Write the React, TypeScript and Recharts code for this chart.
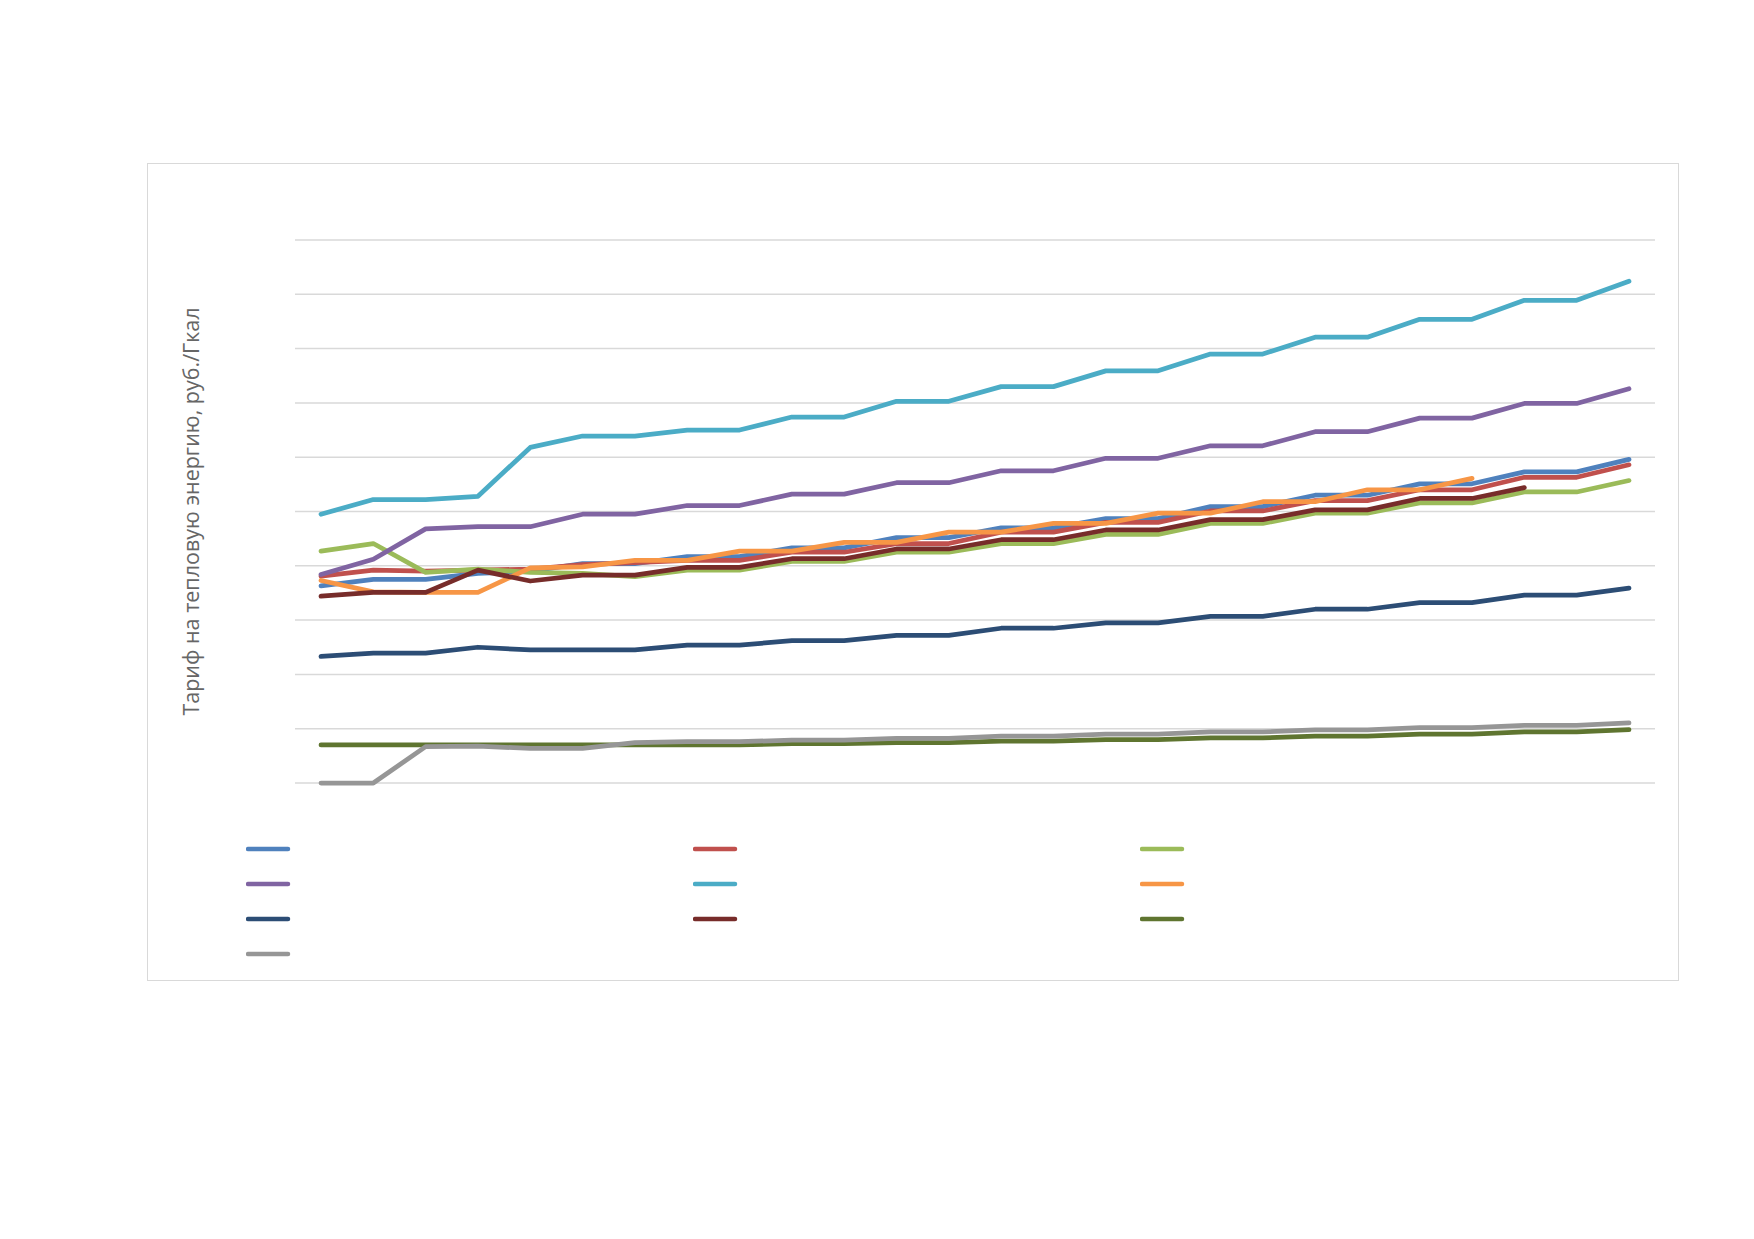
import React from 'react';
import { LineChart, Line, XAxis, YAxis, CartesianGrid, Legend } from 'recharts';

// полугодия 2013–2025
const periods = [
  '2013 I', '2013 II', '2014 I', '2014 II', '2015 I', '2015 II', '2016 I', '2016 II',
  '2017 I', '2017 II', '2018 I', '2018 II', '2019 I', '2019 II', '2020 I', '2020 II',
  '2021 I', '2021 II', '2022 I', '2022 II', '2023 I', '2023 II', '2024 I', '2024 II',
  '2025 I', '2025 II',
];

const s01 = [1815, 1875, 1875, 1930, 1950, 2020, 2020, 2085, 2085, 2165, 2165, 2260, 2260, 2350, 2350, 2435, 2435, 2545, 2545, 2650, 2650, 2755, 2755, 2865, 2865, 2980];
const s02 = [1905, 1960, 1950, 1960, 1970, 2010, 2030, 2050, 2050, 2125, 2125, 2205, 2205, 2310, 2310, 2400, 2400, 2505, 2505, 2600, 2600, 2700, 2700, 2815, 2815, 2930];
const s03 = [2135, 2205, 1940, 1970, 1940, 1930, 1900, 1960, 1960, 2040, 2040, 2125, 2125, 2205, 2205, 2290, 2290, 2390, 2390, 2485, 2485, 2580, 2580, 2680, 2680, 2785];
const s04 = [1920, 2060, 2340, 2360, 2360, 2475, 2475, 2555, 2555, 2660, 2660, 2765, 2765, 2875, 2875, 2990, 2990, 3105, 3105, 3235, 3235, 3360, 3360, 3495, 3495, 3630];
const s05 = [2475, 2610, 2610, 2640, 3090, 3195, 3195, 3250, 3250, 3370, 3370, 3515, 3515, 3650, 3650, 3795, 3795, 3950, 3950, 4105, 4105, 4270, 4270, 4445, 4445, 4620];
const s06 = [1865, 1760, 1755, 1755, 1980, 1990, 2050, 2050, 2135, 2135, 2215, 2215, 2310, 2310, 2390, 2390, 2485, 2485, 2590, 2590, 2700, 2700, 2805, null, null, null];
const s07 = [1165, 1195, 1195, 1250, 1225, 1225, 1225, 1270, 1270, 1310, 1310, 1360, 1360, 1425, 1425, 1475, 1475, 1535, 1535, 1600, 1600, 1660, 1660, 1730, 1730, 1795];
const s08 = [1720, 1755, 1755, 1960, 1860, 1915, 1915, 1985, 1985, 2065, 2065, 2155, 2155, 2240, 2240, 2330, 2330, 2425, 2425, 2515, 2515, 2620, 2620, 2720, null, null];
const s09 = [350, 350, 350, 350, 350, 352, 350, 350, 352, 362, 362, 372, 372, 385, 385, 400, 400, 415, 415, 432, 432, 450, 450, 470, 470, 492];
const s10 = [0, 0, 335, 340, 318, 318, 372, 380, 380, 395, 395, 410, 410, 432, 432, 450, 450, 470, 470, 490, 490, 510, 510, 530, 530, 553];

const yTicks = [0, 500, 1000, 1500, 2000, 2500, 3000, 3500, 4000, 4500, 5000];

const series = [
  { key: 's01', values: s01, color: '#4F81BD' },
  { key: 's02', values: s02, color: '#C0504D' },
  { key: 's03', values: s03, color: '#9BBB59' },
  { key: 's04', values: s04, color: '#8064A2' },
  { key: 's05', values: s05, color: '#4BACC6' },
  { key: 's06', values: s06, color: '#F79646' },
  { key: 's07', values: s07, color: '#2C4D75' },
  { key: 's08', values: s08, color: '#772C2A' },
  { key: 's09', values: s09, color: '#5F7530' },
  { key: 's10', values: s10, color: '#969696' },
];

const data = periods.map((p, i) => {
  const row: Record<string, string | number | null> = { period: p };
  series.forEach((s) => {
    row[s.key] = s.values[i];
  });
  return row;
});

const LegendLines = (props: any) => {
  const items = props.payload || [];
  return (
    <div style={{ display: 'flex', flexWrap: 'wrap', width: 1341 }}>
      {items.map((it: any) => (
        <div key={it.dataKey} style={{ width: 447, height: 35 }}>
          <svg width={60} height={20}>
            <line x1={2} y1={10} x2={42} y2={10} stroke={it.color} strokeWidth={4.5} strokeLinecap="round" />
          </svg>
        </div>
      ))}
    </div>
  );
};

const NoTick = () => <g />;

const App = () => {
  return (
    <div style={{ position: 'absolute', left: 0, top: 0, width: 1754, height: 1230, background: '#fff' }}>
      <div
        style={{
          position: 'absolute',
          left: 147,
          top: 163,
          width: 1530,
          height: 816,
          border: '1px solid #D9D9D9',
        }}
      />
      <LineChart
        width={1754}
        height={1230}
        data={data}
        margin={{ top: 240, right: 99, bottom: 447, left: 87 }}
        style={{ position: 'absolute', left: 0, top: 0 }}
      >
        <CartesianGrid vertical={false} stroke="#D9D9D9" strokeWidth={1.5} />
        <XAxis dataKey="period" hide padding={{ left: 26, right: 26 }} />
        <YAxis
          width={208}
          domain={[0, 5000]}
          ticks={yTicks}
          interval={0}
          tick={<NoTick />}
          axisLine={false}
          tickLine={false}
          label={{
            value: 'Тариф на тепловую энергию, руб./Гкал',
            angle: -90,
            position: 'center',
            fill: '#666666',
            fontSize: 21.5,
            fontFamily: 'Open Sans',
          }}
        />
        <Legend
          verticalAlign="middle"
          align="center"
          content={<LegendLines />}
          wrapperStyle={{ left: 246, top: 839, width: 1400 }}
        />
        {series.map((s) => (
          <Line
            key={s.key}
            dataKey={s.key}
            stroke={s.color}
            strokeWidth={4.75}
            strokeLinecap="round"
            strokeLinejoin="round"
            dot={false}
            activeDot={false}
            isAnimationActive={false}
          />
        ))}
      </LineChart>
    </div>
  );
};

export default App;
